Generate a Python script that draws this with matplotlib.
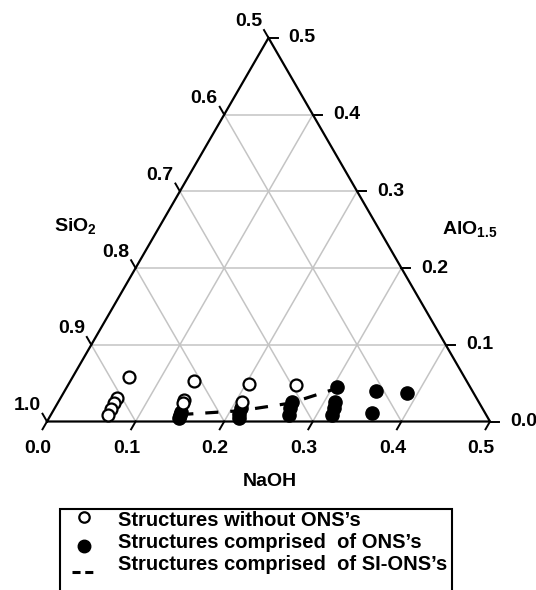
import numpy as np
import matplotlib
matplotlib.use("Agg")
import matplotlib.pyplot as plt
from matplotlib.lines import Line2D
from matplotlib.patches import Rectangle

plt.rcParams["font.family"] = ["Liberation Sans", "DejaVu Sans"]
plt.rcParams["font.weight"] = "bold"
plt.rcParams["mathtext.fontset"] = "custom"
plt.rcParams["mathtext.rm"] = "Liberation Sans:bold"
plt.rcParams["mathtext.bf"] = "Liberation Sans:bold"
plt.rcParams["mathtext.it"] = "Liberation Sans:bold"
plt.rcParams["lines.scale_dashes"] = False

# Compositions given as (NaOH, AlO1.5) mole fractions; SiO2 is the remainder.
open_naoh = [0.063, 0.063, 0.064, 0.064, 0.064, 0.139, 0.141, 0.142, 0.204, 0.208, 0.258]
open_alo = [0.058, 0.031, 0.024, 0.016, 0.009, 0.053, 0.028, 0.024, 0.049, 0.025, 0.047]

ons_naoh = [0.145, 0.146, 0.146, 0.210, 0.212, 0.214, 0.264, 0.266, 0.269,
            0.305, 0.313, 0.315, 0.318, 0.351, 0.388, 0.361]
ons_alo = [0.012, 0.008, 0.005, 0.017, 0.010, 0.005, 0.025, 0.017, 0.008,
           0.045, 0.025, 0.017, 0.008, 0.040, 0.037, 0.011]

si_ons_naoh = [0.146, 0.211, 0.263, 0.305]
si_ons_alo = [0.009, 0.014, 0.024, 0.043]

naoh_ticks = [0.0, 0.1, 0.2, 0.3, 0.4, 0.5]
alo_ticks = [0.0, 0.1, 0.2, 0.3, 0.4, 0.5]
sio2_ticks = [0.5, 0.6, 0.7, 0.8, 0.9, 1.0]
grid_levels = [0.1, 0.2, 0.3, 0.4]

legend_labels = ["Structures without ONS\u2019s",
                 "Structures comprised  of ONS\u2019s",
                 "Structures comprised  of SI-ONS\u2019s"]

H = np.sqrt(3) / 2


def tern(naoh, alo):
    naoh = np.asarray(naoh, dtype=float)
    alo = np.asarray(alo, dtype=float)
    return naoh + alo / 2, alo * H


W, HGT = 536, 590
fig = plt.figure(figsize=(W / 100, HGT / 100), dpi=100)
ax = fig.add_axes([0, 0, 1, 1])
PX = 886.0            # pixels per unit composition
X0, YB = 47.0, 421.5  # pixel position of the SiO2 = 1 corner
ax.set_xlim(-X0 / PX, (W - X0) / PX)
ax.set_ylim(-(HGT - YB) / PX, YB / PX)
ax.axis("off")


def pix(xp, yp):
    return (xp - X0) / PX, (YB - yp) / PX


FS = 14
GRID = "#c4c4c4"

# grid lines
for v in grid_levels:
    # constant AlO1.5
    xs, ys = tern([0, 0.5 - v], [v, v])
    ax.plot(xs, ys, color=GRID, lw=1.1, zorder=1)
    # constant NaOH
    xs, ys = tern([v, v], [0, 0.5 - v])
    ax.plot(xs, ys, color=GRID, lw=1.1, zorder=1)
    # constant SiO2 (s = 1 - v)
    xs, ys = tern([v, 0], [0, v])
    ax.plot(xs, ys, color=GRID, lw=1.1, zorder=1)

# triangle frame
xs, ys = tern([0, 0.5, 0, 0], [0, 0, 0.5, 0])
ax.plot(xs, ys, color="black", lw=1.6, zorder=3, solid_joinstyle="miter")

L = 9 / PX
off_b = (-6.5, -19.5)
off_l = (-14.4, 11.5)
off_r = (14.5, 0)

# NaOH axis (bottom)
for t in naoh_ticks:
    x, y = tern(t, 0)
    ax.plot([x, x - 0.5 * L], [y, y - H * L], color="black", lw=1.4, zorder=3)
    ax.annotate(f"{t:.1f}", (x, y), xytext=off_b, textcoords="offset points",
                ha="center", va="center", fontsize=FS, fontweight="bold")

# SiO2 axis (left)
for s in sio2_ticks:
    x, y = tern(0, 1 - s)
    ax.plot([x, x - 0.5 * L], [y, y + H * L], color="black", lw=1.4, zorder=3)
    ax.annotate(f"{s:.1f}", (x, y), xytext=off_l, textcoords="offset points",
                ha="center", va="center", fontsize=FS, fontweight="bold")

# AlO1.5 axis (right)
for a in alo_ticks:
    x, y = tern(0.5 - a, a)
    ax.plot([x, x + L], [y, y], color="black", lw=1.4, zorder=3)
    ax.annotate(f"{a:.1f}", (x, y), xytext=off_r, textcoords="offset points",
                ha="left", va="center", fontsize=FS, fontweight="bold")

# axis titles
ax.text(*pix(75, 226), r"$\mathbf{SiO_2}$", ha="center", va="center", fontsize=FS)
ax.text(*pix(470, 229), r"$\mathbf{AlO_{1.5}}$", ha="center", va="center", fontsize=FS)
ax.text(*pix(270, 481), "NaOH", ha="center", va="center", fontsize=FS, fontweight="bold")

# SI-ONS trend
xs, ys = tern(si_ons_naoh, si_ons_alo)
ax.plot(xs, ys, color="black", lw=2.3, dashes=(9.4, 8.6), zorder=4,
        dash_capstyle="butt")

# data points
xs, ys = tern(ons_naoh, ons_alo)
ax.plot(xs, ys, "o", ms=9.5, mfc="black", mec="black", mew=1.0, ls="none", zorder=5)
xs, ys = tern(open_naoh, open_alo)
ax.plot(xs, ys, "o", ms=8.6, mfc="white", mec="black", mew=1.6, ls="none", zorder=6)

# legend block
bx0, bx1, by0 = 60, 452, 509
fig.patches.append(Rectangle((bx0 / W, -0.05), (bx1 - bx0) / W, 1 - by0 / HGT + 0.05,
                             transform=fig.transFigure, fill=False, ec="black",
                             lw=1.5, clip_on=False))


def fpt(xp, yp):
    return xp / W, 1 - yp / HGT


fig.add_artist(Line2D(*zip(fpt(84, 517)), marker="o", ms=7.5, mfc="white",
                      mec="black", mew=1.6, ls="none", transform=fig.transFigure))
fig.add_artist(Line2D(*zip(fpt(84, 546)), marker="o", ms=9.0, mfc="black",
                      mec="black", ls="none", transform=fig.transFigure))
p0, p1 = fpt(72, 572), fpt(93, 572)
fig.add_artist(Line2D([p0[0], p1[0]], [p0[1], p1[1]], color="black", lw=2.2,
                      dashes=(5.8, 3.4), transform=fig.transFigure))
for lab, yp in zip(legend_labels, [521, 542, 565]):
    fig.text(*fpt(118, yp), lab, ha="left", va="center", fontsize=14.5,
             fontweight="bold")

fig.savefig("out.png", dpi=100)
